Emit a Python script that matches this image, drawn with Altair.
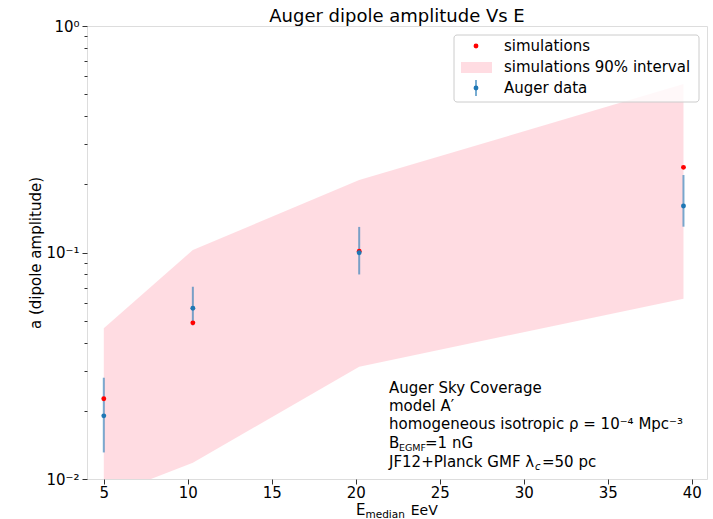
import altair as alt
import pandas as pd

# Median energy of each bin (EeV)
energy = [5.0, 10.3, 20.2, 39.5]

# Simulated dipole amplitude and its 90% interval
sim_amp = [0.0226, 0.0489, 0.1014, 0.2377]
band_low = [0.0083, 0.0118, 0.0313, 0.0625]
band_high = [0.0463, 0.1026, 0.209, 0.554]

# Auger measured dipole amplitude with uncertainties
auger_amp = [0.0190, 0.0567, 0.0998, 0.1604]
auger_low = [0.0131, 0.0477, 0.080, 0.130]
auger_high = [0.0280, 0.0706, 0.1297, 0.2198]

x_ticks = [5, 10, 15, 20, 25, 30, 35, 40]
y_major = [0.01, 0.1, 1.0]
y_minor = [0.02, 0.03, 0.04, 0.05, 0.06, 0.07, 0.08, 0.09,
           0.2, 0.3, 0.4, 0.5, 0.6, 0.7, 0.8, 0.9]

FONT = "DejaVu Sans"
W, H = 620, 453

df = pd.DataFrame({
    "energy": energy,
    "sim": sim_amp,
    "lo": band_low,
    "hi": band_high,
    "auger": auger_amp,
    "alo": auger_low,
    "ahi": auger_high,
})

xscale = alt.Scale(domain=[4.0, 40.9], nice=False, zero=False)
yscale = alt.Scale(type="log", domain=[0.01, 1.0], nice=False)

xaxis = alt.Axis(values=x_ticks, title="", grid=False, domain=False,
                 tickSize=5, tickColor="#333", labelFont=FONT, labelFontSize=15,
                 labelColor="black", labelPadding=1)

major_axis = alt.Axis(
    values=y_major, orient="left", grid=False, domain=False,
    tickSize=5, tickColor="#333", labelFont=FONT, labelFontSize=15,
    labelColor="black", labelPadding=3,
    labelExpr="'10' + (datum.value >= 0.5 ? '⁰' : datum.value >= 0.05 ? '⁻¹' : '⁻²')",
    title="a (dipole amplitude)", titleFont=FONT, titleFontSize=15,
    titleFontWeight="normal", titleColor="black", titleAngle=-90,
    titleX=-52, titleY=H / 2, titleAlign="center", titleBaseline="middle",
)
minor_axis = alt.Axis(values=y_minor, orient="left", grid=False, domain=False,
                      labels=False, tickSize=3, tickColor="#333", title="")

X = alt.X("energy:Q", scale=xscale, axis=xaxis)

base = alt.Chart(df)

band = base.mark_area(color="pink", opacity=0.55, clip=True).encode(
    x=X,
    y=alt.Y("lo:Q", scale=yscale, axis=major_axis),
    y2="hi:Q",
)

err = base.mark_rule(color="#1f77b4", opacity=0.6, strokeWidth=2).encode(
    x=X,
    y=alt.Y("alo:Q", scale=yscale, axis=minor_axis),
    y2="ahi:Q",
)

sim_pts = base.mark_circle(color="#ff0000", opacity=1, size=24).encode(
    x=X,
    y=alt.Y("sim:Q", scale=yscale, axis=None),
)

auger_pts = base.mark_circle(color="#1f77b4", opacity=1, size=24).encode(
    x=X,
    y=alt.Y("auger:Q", scale=yscale, axis=None),
)

one = alt.Chart(pd.DataFrame({"k": [0]}))


def label(text, x, y, size=15, style="normal", align="left"):
    return one.mark_text(text=text, font=FONT, fontSize=size, fontStyle=style,
                         align=align, baseline="alphabetic", color="black").encode(
        x=alt.value(x), y=alt.value(y))


# Legend box and entries
legend_box = one.mark_rect(fill="white", fillOpacity=0.8, stroke="#cccccc",
                           strokeWidth=1, cornerRadius=3).encode(
    x=alt.value(367), x2=alt.value(612), y=alt.value(9), y2=alt.value(76))
leg_sim = one.mark_circle(color="#ff0000", opacity=1, size=24).encode(
    x=alt.value(389), y=alt.value(20))
leg_band = one.mark_rect(color="pink", opacity=0.55).encode(
    x=alt.value(374), x2=alt.value(405), y=alt.value(36), y2=alt.value(47))
leg_err = one.mark_rule(color="#1f77b4", opacity=0.6, strokeWidth=2).encode(
    x=alt.value(389), y=alt.value(54), y2=alt.value(70))
leg_pt = one.mark_circle(color="#1f77b4", opacity=1, size=24).encode(
    x=alt.value(389), y=alt.value(62))
leg_texts = [
    label("simulations", 417, 25),
    label("simulations 90% interval", 417, 45.7),
    label("Auger data", 417, 66.7),
]

# Model description block
notes = [
    label("Auger Sky Coverage", 302, 367.3),
    label("model A′", 302, 385),
    label("homogeneous isotropic ρ = 10⁻⁴ Mpc⁻³", 302, 403.3),
    label("B", 302, 421.7),
    label("EGMF", 312, 424.5, size=9.5),
    label("=1 nG", 338, 421.7),
    label("JF12+Planck GMF λ", 302, 440.7),
    label("c", 448, 443.5, size=10, style="italic"),
    label("=50 pc", 455, 440.7),
]

# x-axis title with subscript
xtitle = [
    label("E", 269, 489),
    label("median", 278.5, 492, size=10.5),
    label("EeV", 323.7, 489, size=14),
]

# Chart title
title = label("Auger dipole amplitude Vs E", W / 2, -4, size=18, align="center")

data_layers = alt.layer(band, err, sim_pts, auger_pts).resolve_axis(y="independent")

chart = alt.layer(
    data_layers, legend_box, leg_sim, leg_band, leg_err, leg_pt,
    *leg_texts, *notes, *xtitle, title,
).properties(
    width=W, height=H,
    autosize=alt.AutoSizeParams(type="none"),
    padding={"left": 87, "top": 26, "right": 6, "bottom": 40},
).configure_view(stroke="#333333", strokeWidth=1).configure(background="white")

chart.save("out.html", embed_options={"renderer": "svg", "actions": False})
